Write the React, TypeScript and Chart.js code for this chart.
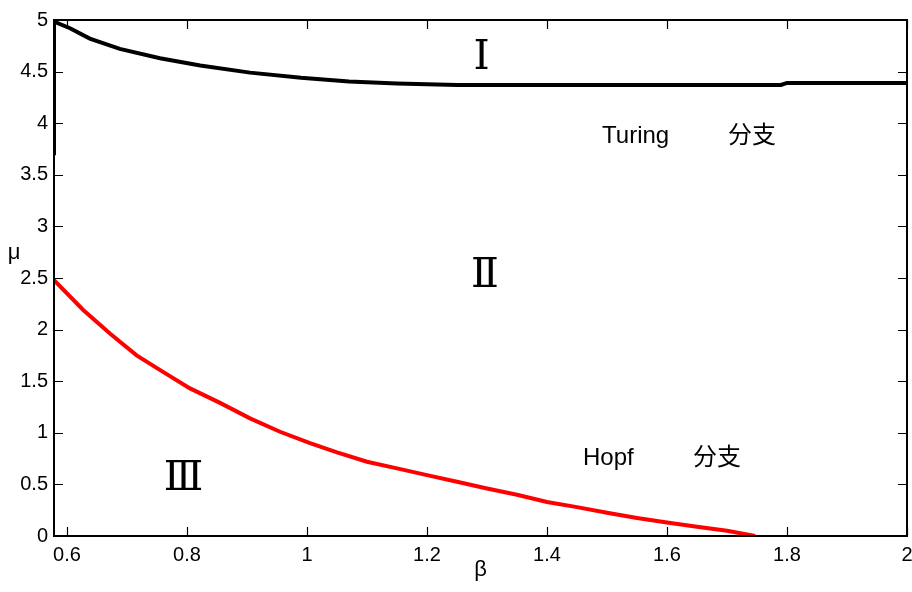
import React, { useEffect, useRef } from 'react';
import { Chart, registerables } from 'chart.js';

Chart.register(...registerables);

// Turing bifurcation curve (black)
const turingBeta = [0.5783, 0.5783, 0.58, 0.605, 0.638, 0.688, 0.755, 0.822, 0.905, 0.99, 1.07, 1.15, 1.25, 1.5, 1.79, 1.8, 2.0];
const turingMu = [3.69, 5.0, 4.98, 4.92, 4.82, 4.72, 4.63, 4.56, 4.49, 4.44, 4.405, 4.385, 4.37, 4.37, 4.37, 4.39, 4.39];

// Hopf bifurcation curve (red)
const hopfBeta = [0.5783, 0.627, 0.672, 0.716, 0.76, 0.805, 0.855, 0.905, 0.955, 1.005, 1.05, 1.1, 1.15, 1.2, 1.25, 1.3, 1.35, 1.4, 1.45, 1.5, 1.55, 1.6, 1.65, 1.7, 1.747];
const hopfMu = [2.48, 2.19, 1.96, 1.75, 1.59, 1.43, 1.29, 1.14, 1.01, 0.9, 0.81, 0.72, 0.655, 0.59, 0.525, 0.46, 0.4, 0.33, 0.28, 0.225, 0.175, 0.13, 0.09, 0.05, 0.0];

const xTicks = [0.6, 0.8, 1, 1.2, 1.4, 1.6, 1.8, 2];
const yTicks = [0, 0.5, 1, 1.5, 2, 2.5, 3, 3.5, 4, 4.5, 5];
const xTickLabels = ['0.6', '0.8', '1', '1.2', '1.4', '1.6', '1.8', '2'];
const yTickLabels = ['0', '0.5', '1', '1.5', '2', '2.5', '3', '3.5', '4', '4.5', '5'];

const xMin = 0.5783;
const xMax = 2;
const yMin = 0;
const yMax = 5;

const xTitle = 'β';
const yTitle = 'μ';

// region labels (Roman numerals), positioned at baseline in data coords
const regionTexts = ['Ⅰ', 'Ⅱ', 'Ⅲ'];
const regionBeta = [1.2908, 1.2967, 0.7942];
const regionMu = [4.525, 2.413, 0.446];

// branch labels
const branchTexts = ['Turing', '分支', 'Hopf', '分支'];
const branchBeta = [1.4917, 1.7017, 1.46, 1.6433];
const branchMu = [3.808, 3.808, 0.688, 0.688];

const SANS = '"Liberation Sans", Arial, "Noto Sans CJK SC", sans-serif';
const ROMAN = '"DejaVu Serif", "Noto Sans CJK SC", serif';

const framePlugin = {
  id: 'frameAndText',
  afterDraw(chart: any) {
    const { ctx, chartArea } = chart;
    const xs = chart.scales.x;
    const ys = chart.scales.y;
    const { left, right, top, bottom } = chartArea;
    ctx.save();
    ctx.strokeStyle = '#000';
    ctx.lineWidth = 2;
    ctx.strokeRect(left, top, right - left, bottom - top);
    ctx.lineWidth = 1.2;
    const tl = 9;
    ctx.beginPath();
    xTicks.forEach((v) => {
      const px = Math.round(xs.getPixelForValue(v)) + 0.5;
      ctx.moveTo(px, bottom);
      ctx.lineTo(px, bottom - tl);
      ctx.moveTo(px, top);
      ctx.lineTo(px, top + tl);
    });
    yTicks.forEach((v) => {
      const py = Math.round(ys.getPixelForValue(v)) + 0.5;
      ctx.moveTo(left, py);
      ctx.lineTo(left + tl, py);
      ctx.moveTo(right, py);
      ctx.lineTo(right - tl, py);
    });
    ctx.stroke();

    // axis titles
    ctx.fillStyle = '#000';
    ctx.font = `22px ${SANS}`;
    ctx.textAlign = 'center';
    ctx.textBaseline = 'middle';
    ctx.fillText(yTitle, 14, (top + bottom) / 2 - 25);
    ctx.textBaseline = 'alphabetic';
    ctx.fillText(xTitle, (left + right) / 2, 576);

    // region numerals
    ctx.font = `41px ${ROMAN}`;
    ctx.textAlign = 'center';
    ctx.textBaseline = 'alphabetic';
    regionTexts.forEach((t, i) => {
      ctx.fillText(t, xs.getPixelForValue(regionBeta[i]), ys.getPixelForValue(regionMu[i]));
    });

    // branch labels
    ctx.font = `24px ${SANS}`;
    ctx.textAlign = 'left';
    branchTexts.forEach((t, i) => {
      ctx.fillText(t, xs.getPixelForValue(branchBeta[i]), ys.getPixelForValue(branchMu[i]));
    });
    ctx.restore();
  },
};

export default function App() {
  const ref = useRef<HTMLCanvasElement | null>(null);
  useEffect(() => {
    document.body.style.margin = '0';
    const canvas = ref.current;
    if (!canvas) return;
    const chart = new Chart(canvas, {
      type: 'scatter',
      data: {
        datasets: [
          {
            label: 'Turing',
            data: turingBeta.map((b, i) => ({ x: b, y: turingMu[i] })),
            showLine: true,
            borderColor: '#000000',
            backgroundColor: '#000000',
            borderWidth: 4,
            pointRadius: 0,
            tension: 0,
          },
          {
            label: 'Hopf',
            data: hopfBeta.map((b, i) => ({ x: b, y: hopfMu[i] })),
            showLine: true,
            borderColor: '#ff0000',
            backgroundColor: '#ff0000',
            borderWidth: 4,
            pointRadius: 0,
            tension: 0,
          },
        ],
      },
      options: {
        responsive: false,
        animation: false,
        layout: { padding: { top: 20, right: 5, left: 0, bottom: 0 } },
        plugins: {
          legend: { display: false },
          tooltip: { enabled: false },
        },
        scales: {
          x: {
            type: 'linear',
            min: xMin,
            max: xMax,
            grid: { display: false, drawTicks: false },
            border: { display: false },
            afterBuildTicks: (s: any) => {
              s.ticks = xTicks.map((v) => ({ value: v }));
            },
            afterFit: (s: any) => {
              s.height = 56;
              s.paddingLeft = 0;
              s.paddingRight = 0;
            },
            ticks: {
              autoSkip: false,
              maxRotation: 0,
              minRotation: 0,
              padding: 7,
              color: '#000',
              font: { family: SANS, size: 20 },
              callback: (v: any) => {
                const i = xTicks.indexOf(Number(v));
                return i >= 0 ? xTickLabels[i] : '';
              },
            },
          },
          y: {
            type: 'linear',
            min: yMin,
            max: yMax,
            grid: { display: false, drawTicks: false },
            border: { display: false },
            afterBuildTicks: (s: any) => {
              s.ticks = yTicks.map((v) => ({ value: v }));
            },
            afterFit: (s: any) => {
              s.width = 54;
              s.paddingTop = 0;
              s.paddingBottom = 0;
            },
            ticks: {
              autoSkip: false,
              padding: 6,
              color: '#000',
              font: { family: SANS, size: 20 },
              callback: (v: any) => {
                const i = yTicks.indexOf(Number(v));
                return i >= 0 ? yTickLabels[i] : '';
              },
            },
          },
        },
      },
      plugins: [framePlugin],
    } as any);
    return () => chart.destroy();
  }, []);
  return (
    <div style={{ width: 912, height: 592 }}>
      <canvas ref={ref} width={912} height={592} style={{ display: 'block', width: 912, height: 592 }} />
    </div>
  );
}
